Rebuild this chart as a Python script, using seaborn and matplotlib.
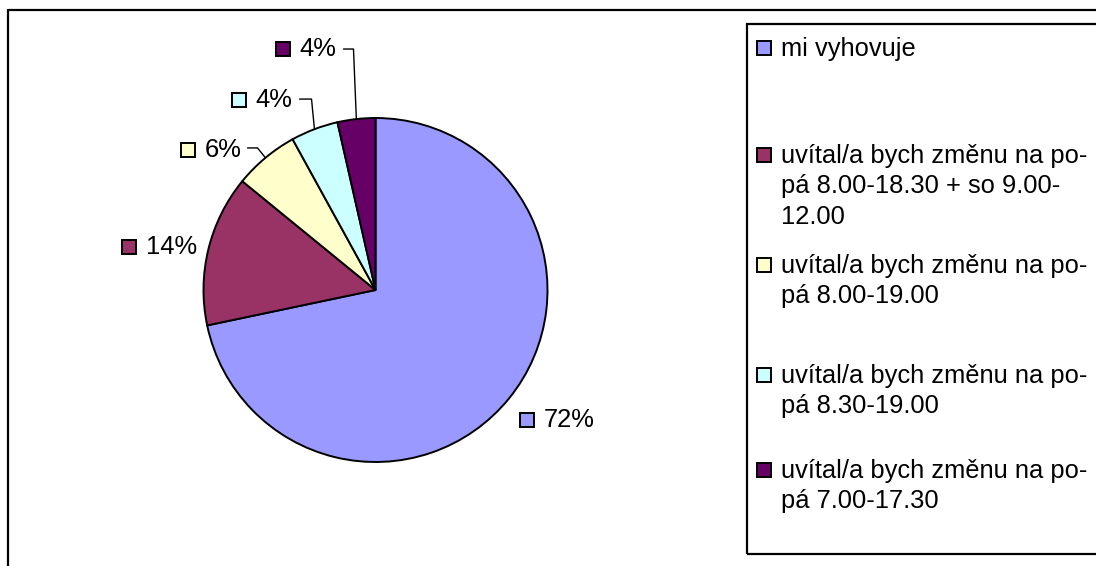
import matplotlib
matplotlib.use("Agg")
import matplotlib.pyplot as plt
from matplotlib.patches import Rectangle
from matplotlib.lines import Line2D
import numpy as np
import seaborn as sns

# survey shares (percent), clockwise from 12 o'clock
shares = [71.7, 14.2, 6.1, 4.45, 3.55]
legend_labels = [
    "mi vyhovuje",
    "uvítal/a bych změnu na po-\npá 8.00-18.30 + so 9.00-\n12.00",
    "uvítal/a bych změnu na po-\npá 8.00-19.00",
    "uvítal/a bych změnu na po-\npá 8.30-19.00",
    "uvítal/a bych změnu na po-\npá 7.00-17.30",
]
slice_colors = ["#9999FF", "#993366", "#FFFFCC", "#CCFFFF", "#660066"]

W, H = 1096, 566
sns.set_theme(style="white")
plt.rcParams["font.family"] = ["Liberation Sans", "DejaVu Sans"]
plt.rcParams["text.color"] = "black"
FS = 18.4

fig = plt.figure(figsize=(W / 100, H / 100), dpi=100)
fig.patch.set_facecolor("white")

# pie placed so radius 1 == 172 px, centre at (375.5, 290)
cx, cy, r = 375.5, 290, 172
ax = fig.add_axes([(cx - r) / W, (H - cy - r) / H, 2 * r / W, 2 * r / H])
wedges, _ = ax.pie(shares, colors=sns.color_palette(slice_colors), startangle=90,
                   counterclock=False,
                   wedgeprops=dict(edgecolor="black", linewidth=1.4))
ax.set_xlim(-1, 1)
ax.set_ylim(-1, 1)
ax.axis("off")

# label layout: (square x, text centre y) in pie units, optional leader elbow
label_pos = [(0.843, -0.756), (-1.471, 0.250), (-1.130, 0.814),
             (-0.832, 1.105), (-0.576, 1.401)]
leader_elbow = [None, None, (-0.686, 0.826), (-0.372, 1.110), (-0.128, 1.401)]
leader_end = [None, None, -0.744, -0.442, -0.186]

for i, w in enumerate(wedges):
    sx, sy = label_pos[i]
    ax.plot([sx + 0.04], [sy], marker="s", markersize=10, markerfacecolor=slice_colors[i],
            markeredgecolor="black", markeredgewidth=1.4, clip_on=False)
    ax.text(sx + 0.135, sy, f"{round(shares[i])}%", fontsize=FS, va="center", ha="left")
    if leader_elbow[i] is not None:
        mid = np.deg2rad((w.theta1 + w.theta2) / 2)
        ex, ey = np.cos(mid), np.sin(mid)
        elx, ely = leader_elbow[i]
        ax.plot([leader_end[i], elx, ex], [ely, ely, ey], color="black", lw=1.0,
                clip_on=False)

# outer chart frame (top + left visible)
fig.add_artist(Line2D([8 / W, 8 / W], [0, 1 - 10 / H], color="black", lw=1.6))
fig.add_artist(Line2D([8 / W, 1], [1 - 10 / H, 1 - 10 / H], color="black", lw=1.6))

# legend box drawn by hand to keep Excel-like spacing
fig.add_artist(Rectangle((747 / W, (H - 554) / H), 1, (554 - 24) / H,
                         transform=fig.transFigure, fill=False, edgecolor="black", lw=1.6))
entry_y = [48, 155, 265, 375, 470]
for lab, col, y in zip(legend_labels, slice_colors, entry_y):
    fig.add_artist(Rectangle((757 / W, (H - y - 7) / H), 14 / W, 14 / H,
                             transform=fig.transFigure, facecolor=col,
                             edgecolor="black", lw=1.4))
    fig.text(781 / W, (H - y + 11) / H, lab, fontsize=FS, va="top", ha="left",
             linespacing=1.33)

fig.savefig("out.png", dpi=100)
